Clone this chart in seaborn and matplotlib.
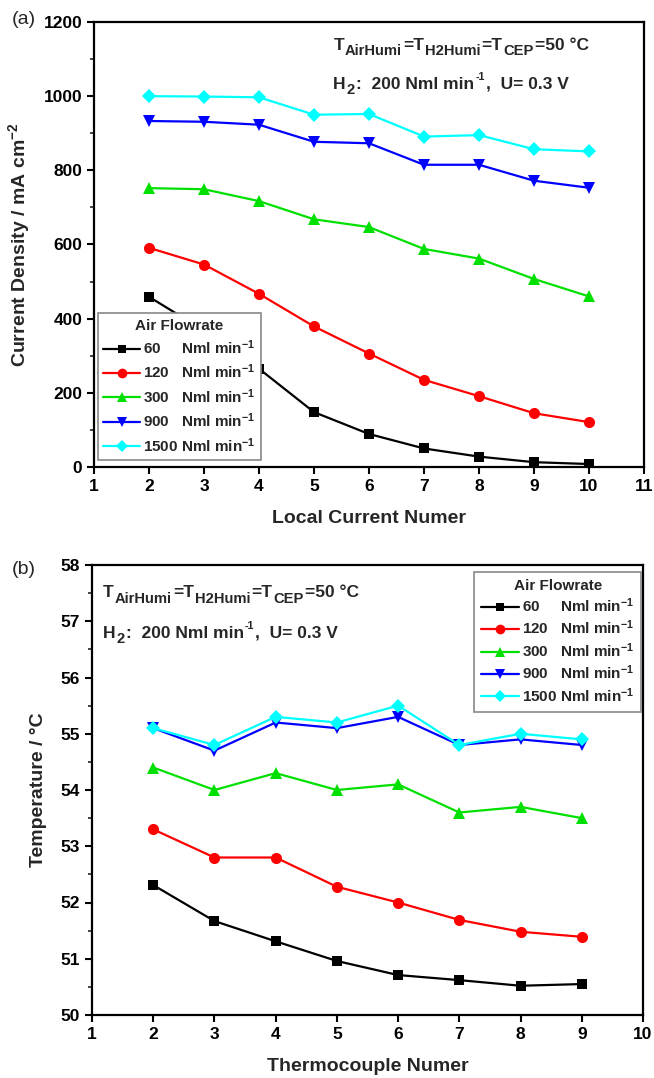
import matplotlib
matplotlib.use("Agg")
import matplotlib.pyplot as plt
import seaborn as sns
import pandas as pd
from matplotlib.ticker import MultipleLocator
from matplotlib.lines import Line2D

# ---------------- data ----------------
flow_labels = ["60", "120", "300", "900", "1500"]

x_local = [2, 3, 4, 5, 6, 7, 8, 9, 10]
cur_60 = [459, 368, 265, 148, 89, 50, 28, 13, 8]
cur_120 = [591, 546, 467, 379, 306, 235, 191, 145, 121]
cur_300 = [752, 749, 717, 668, 647, 588, 562, 507, 460]
cur_900 = [933, 931, 923, 877, 873, 815, 815, 772, 753]
cur_1500 = [1000, 999, 997, 950, 952, 891, 895, 857, 851]

x_thermo = [2, 3, 4, 5, 6, 7, 8, 9]
t_60 = [52.31, 51.67, 51.31, 50.96, 50.71, 50.62, 50.52, 50.55]
t_120 = [53.3, 52.8, 52.8, 52.28, 52.0, 51.69, 51.48, 51.39]
t_300 = [54.4, 54.0, 54.3, 54.0, 54.1, 53.6, 53.7, 53.5]
t_900 = [55.1, 54.7, 55.2, 55.1, 55.3, 54.8, 54.9, 54.8]
t_1500 = [55.1, 54.8, 55.3, 55.2, 55.5, 54.8, 55.0, 54.9]

colors = ["#000000", "#ff0000", "#00e000", "#0000ff", "#00ffff"]
markers = ["s", "o", "^", "v", "D"]
msizes = [7, 8, 8, 8, 7]

# ---------------- style ----------------
sns.set_theme(style="ticks")
plt.rcParams["font.family"] = ["Liberation Sans", "DejaVu Sans"]
plt.rcParams["font.weight"] = "bold"
plt.rcParams["axes.labelweight"] = "bold"
plt.rcParams["mathtext.fontset"] = "custom"
plt.rcParams["mathtext.rm"] = "Liberation Sans:bold"
plt.rcParams["mathtext.it"] = "Liberation Sans:bold"
plt.rcParams["mathtext.bf"] = "Liberation Sans:bold"
plt.rcParams["mathtext.sf"] = "Liberation Sans:bold"

FW, FH, DPI = 654, 1078, 100
fig = plt.figure(figsize=(FW / DPI, FH / DPI), dpi=DPI)
ax1 = fig.add_axes([94 / FW, 1 - 467 / FH, 550 / FW, 445 / FH])
ax2 = fig.add_axes([92 / FW, 1 - 1015 / FH, 551 / FW, 450 / FH])

df_a = pd.DataFrame({
    "x": x_local * 5,
    "y": cur_60 + cur_120 + cur_300 + cur_900 + cur_1500,
    "flow": sum([[f] * len(x_local) for f in flow_labels], []),
})
df_b = pd.DataFrame({
    "x": x_thermo * 5,
    "y": t_60 + t_120 + t_300 + t_900 + t_1500,
    "flow": sum([[f] * len(x_thermo) for f in flow_labels], []),
})

for ax, df in ((ax1, df_a), (ax2, df_b)):
    for f, c, m, ms in zip(flow_labels, colors, markers, msizes):
        sub = df[df["flow"] == f]
        sns.lineplot(data=sub, x="x", y="y", ax=ax, color=c, marker=m,
                     markersize=ms, markeredgewidth=0, linewidth=1.6,
                     legend=False)

leg_labels = ["60     Nml min$^{-1}$", "120   Nml min$^{-1}$",
              "300   Nml min$^{-1}$", "900   Nml min$^{-1}$",
              "1500 Nml min$^{-1}$"]
handles = [Line2D([0], [0], color=c, marker=m, markersize=ms - 1,
                  markeredgewidth=0, linewidth=1.6)
           for c, m, ms in zip(colors, markers, msizes)]


def style_axis(ax):
    for s in ax.spines.values():
        s.set_linewidth(1.6)
        s.set_color("black")
    ax.tick_params(which="major", direction="out", length=5, width=1.5,
                   labelsize=12.5, colors="black")
    ax.tick_params(which="minor", direction="out", length=3, width=1.2)
    for lab in ax.get_xticklabels() + ax.get_yticklabels():
        lab.set_fontweight("bold")


renderer = fig.canvas.get_renderer()


def rich_text(ax, x, y, pieces, size):
    """Draw a line of text made of normal / subscript / superscript pieces."""
    px, py = ax.transAxes.transform((x, y))
    for s, kind in pieces:
        if kind == "sub":
            fs, dy = size * 0.85, -0.3 * size
        elif kind == "sup":
            fs, dy = size * 0.62, 0.5 * size
        else:
            fs, dy = size, 0.0
        t = fig.text(px / FW, (py + dy * DPI / 72) / FH, s, fontsize=fs,
                     fontweight="bold", ha="left", va="baseline")
        w = t.get_window_extent(renderer).width
        px += w + 1.0


line1 = [("T", "n"), ("AirHumi", "sub"), ("=T", "n"), ("H2Humi", "sub"),
         ("=T", "n"), ("CEP", "sub"), ("=50 °C", "n")]
line2 = [("H", "n"), ("2", "sub"), (":  200 Nml min", "n"), ("-1", "sup"),
         (",  U= 0.3 V", "n")]

# ---------- panel (a) ----------
ax1.set_xlim(1, 11)
ax1.set_ylim(0, 1200)
ax1.xaxis.set_major_locator(MultipleLocator(1))
ax1.yaxis.set_major_locator(MultipleLocator(200))
ax1.yaxis.set_minor_locator(MultipleLocator(100))
ax1.set_xlabel("Local Current Numer", fontsize=14, fontweight="bold", labelpad=12)
ax1.set_ylabel("Current Density / mA cm$^{-2}$", fontsize=14, fontweight="bold", labelpad=8)
style_axis(ax1)
rich_text(ax1, 0.435, 0.937, line1, 12.5)
rich_text(ax1, 0.435, 0.850, line2, 12.5)
leg1 = ax1.legend(handles, leg_labels, title="Air Flowrate", loc="lower left",
                  bbox_to_anchor=(0.007, 0.016), borderaxespad=0, fontsize=11,
                  title_fontproperties={"weight": "bold", "size": 11},
                  frameon=True, fancybox=False, edgecolor="#888888",
                  framealpha=1, handlelength=2.4, handletextpad=0.2,
                  labelspacing=0.38, borderpad=0.35)
leg1.get_frame().set_linewidth(1.2)
fig.text(12 / FW, 1 - 19 / FH, "(a)", fontsize=14, fontweight="normal", va="center")

# ---------- panel (b) ----------
ax2.set_xlim(1, 10)
ax2.set_ylim(50, 58)
ax2.xaxis.set_major_locator(MultipleLocator(1))
ax2.yaxis.set_major_locator(MultipleLocator(1))
ax2.yaxis.set_minor_locator(MultipleLocator(0.5))
ax2.set_xlabel("Thermocouple Numer", fontsize=14, fontweight="bold", labelpad=12)
ax2.set_ylabel("Temperature / °C", fontsize=14, fontweight="bold", labelpad=10)
style_axis(ax2)
rich_text(ax2, 0.02, 0.928, line1, 12.5)
rich_text(ax2, 0.02, 0.838, line2, 12.5)
leg2 = ax2.legend(handles, leg_labels, title="Air Flowrate", loc="upper right",
                  bbox_to_anchor=(0.997, 0.985), borderaxespad=0, fontsize=11,
                  title_fontproperties={"weight": "bold", "size": 11},
                  frameon=True, fancybox=False, edgecolor="#888888",
                  framealpha=1, handlelength=2.5, handletextpad=0.2,
                  labelspacing=0.25, borderpad=0.45)
leg2.get_frame().set_linewidth(1.2)
fig.text(12 / FW, 1 - 570 / FH, "(b)", fontsize=14, fontweight="normal", va="center")

fig.savefig("out.png", dpi=DPI)
